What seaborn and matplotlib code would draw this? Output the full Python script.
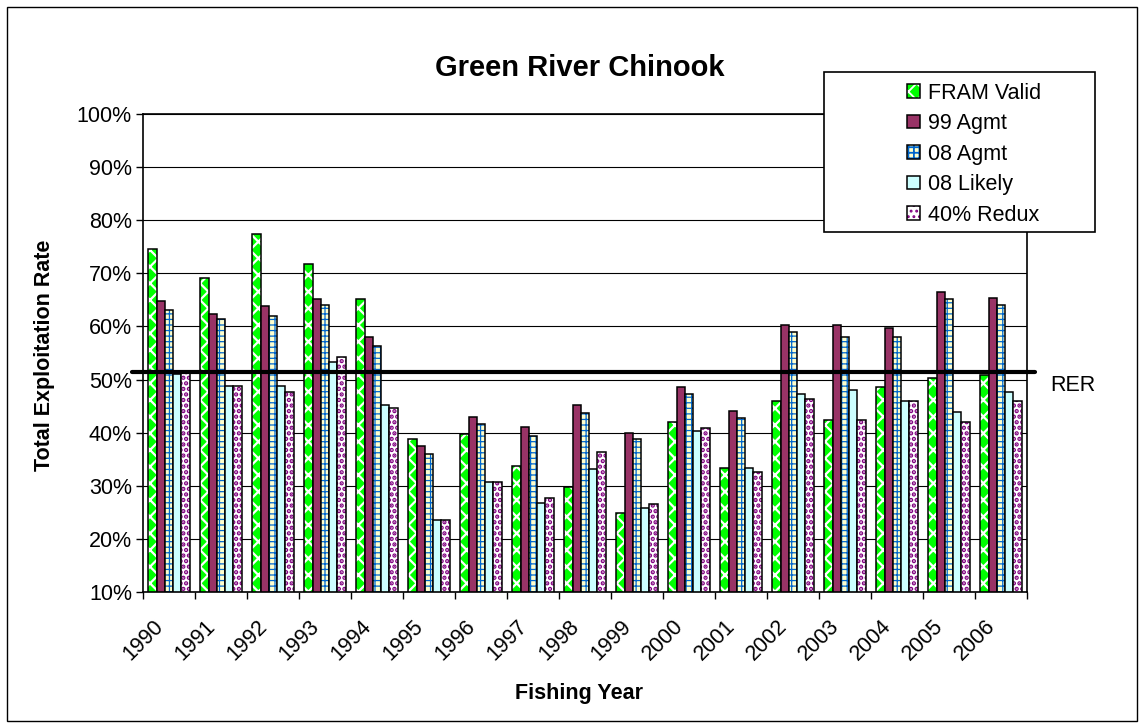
import numpy as np
import pandas as pd
import matplotlib
matplotlib.use("Agg")
import matplotlib.pyplot as plt
import matplotlib.transforms as mtransforms
import seaborn as sns
from matplotlib.patches import Rectangle
from matplotlib.ticker import PercentFormatter, MultipleLocator
from matplotlib.colors import to_rgba

# data (percent)
years = ["1990", "1991", "1992", "1993", "1994", "1995", "1996", "1997", "1998",
         "1999", "2000", "2001", "2002", "2003", "2004", "2005", "2006"]
fram_valid = [74.6, 69.1, 77.4, 71.8, 65.2, 38.8, 39.8, 33.7, 29.7, 24.8, 42.0, 33.4, 46.0, 42.3, 48.6, 50.3, 50.8]
agmt_99 = [64.8, 62.3, 63.8, 65.2, 58.0, 37.4, 42.9, 41.1, 45.2, 40.0, 48.6, 44.0, 60.3, 60.3, 59.8, 66.5, 65.4]
agmt_08 = [63.1, 61.4, 62.0, 64.0, 56.4, 36.0, 41.7, 39.4, 43.7, 38.9, 47.2, 42.8, 58.9, 58.1, 58.1, 65.1, 64.0]
likely_08 = [51.0, 48.8, 48.8, 53.3, 45.2, 23.6, 30.8, 26.8, 33.1, 25.9, 40.3, 33.4, 47.2, 48.0, 46.0, 43.8, 47.7]
redux_40 = [51.4, 48.8, 47.7, 54.3, 44.6, 23.6, 30.8, 27.7, 36.4, 26.5, 40.8, 32.6, 46.3, 42.3, 46.0, 42.1, 46.0]
rer = 51.4

series = ["FRAM Valid", "99 Agmt", "08 Agmt", "08 Likely", "40% Redux"]
face_colors = ["#00FF00", "#993366", "#FFFFCC", "#CCFFFF", "#FFFFFF"]
hatches = ["xx", "", "+++", "", "..."]
hatch_colors = ["#FFFFFF", "#993366", "#0066CC", "#CCFFFF", "#800080"]
hatch_widths = [1.6, 1.0, 0.9, 1.0, 2.2]

wide = pd.DataFrame({"Fishing Year": years, "FRAM Valid": fram_valid, "99 Agmt": agmt_99,
                     "08 Agmt": agmt_08, "08 Likely": likely_08, "40% Redux": redux_40})
long = wide.melt(id_vars="Fishing Year", var_name="series", value_name="rate")

sns.set_style("white")
plt.rcParams["font.family"] = ["Liberation Sans", "DejaVu Sans"]
plt.rcParams["hatch.linewidth"] = 1.3
for key in ["text.color", "axes.labelcolor", "xtick.color", "ytick.color"]:
    plt.rcParams[key] = "black"

fig = plt.figure(figsize=(11.44, 7.28), dpi=100)
ax = fig.add_axes([143 / 1144, 1 - 592 / 728, 884 / 1144, 478 / 728])

sns.barplot(data=long, x="Fishing Year", y="rate", hue="series", hue_order=series,
            palette=dict(zip(series, face_colors)), saturation=1, width=0.8,
            edgecolor="black", linewidth=1.1, legend=False, ax=ax)

for cont, h, hc, hw in zip(ax.containers, hatches, hatch_colors, hatch_widths):
    for bar in cont:
        bar.set_hatch(h)
        if hasattr(bar, "set_hatchcolor"):
            bar.set_hatchcolor(hc)
        else:
            bar._hatch_color = to_rgba(hc)
        if hasattr(bar, "set_hatch_linewidth"):
            bar.set_hatch_linewidth(hw)

ax.set_ylim(10, 100)
ax.set_xlim(-0.5, len(years) - 0.5)
ax.yaxis.set_major_locator(MultipleLocator(10))
ax.yaxis.set_major_formatter(PercentFormatter(100, decimals=0))
ax.grid(axis="y", color="black", linewidth=0.8)
ax.set_axisbelow(True)

ax.set_xticks(np.arange(len(years) + 1) - 0.5, labels=[])
ax.set_xticks(np.arange(len(years)), labels=years, minor=True)
ax.tick_params(axis="x", which="major", direction="out", length=5, width=1, color="black", bottom=True)
ax.tick_params(axis="x", which="minor", length=0, labelsize=15.5, pad=12)
shift = mtransforms.ScaledTranslation(-16 / 100, -7 / 100, fig.dpi_scale_trans)
for lab in ax.get_xticklabels(minor=True):
    lab.set_rotation(45)
    lab.set_ha("right")
    lab.set_rotation_mode("anchor")
    lab.set_transform(lab.get_transform() + shift)
ax.tick_params(axis="y", direction="out", length=5, width=1, color="black", left=True, labelsize=15.5, pad=3)

for sp in ax.spines.values():
    sp.set_color("black")
    sp.set_linewidth(1.2)

ax.set_xlabel("")
ax.set_ylabel("")
fig.text(579 / 1144, 1 - 693 / 728, "Fishing Year", ha="center", va="center", fontsize=15.5, fontweight="bold")
fig.text(45 / 1144, 1 - 355 / 728, "Total Exploitation Rate", ha="center", va="center",
         rotation=90, fontsize=15.5, fontweight="bold")
fig.text(580 / 1144, 1 - 68 / 728, "Green River Chinook", ha="center", va="center", fontsize=21, fontweight="bold")

# RER reference line, running slightly past the plot area
ax.axhline(rer, xmin=-0.012, xmax=1.009, color="black", linewidth=3, clip_on=False, zorder=5)
ax.annotate("RER", xy=(1.026, rer), xycoords=("axes fraction", "data"), xytext=(0, -9.5),
            textcoords="offset points", va="center", ha="left", fontsize=15.5, annotation_clip=False)

# legend box and entries
fig.add_artist(Rectangle((824 / 1144, 1 - 232 / 728), 271 / 1144, 160 / 728, transform=fig.transFigure,
                         facecolor="white", edgecolor="black", linewidth=1.2, zorder=3))
fig.legend(ax.containers, series, loc="upper left", bbox_to_anchor=(896 / 1144, 1 - 72 / 728),
           frameon=False, borderpad=0, fontsize=15.5, handlelength=0.6, handleheight=0.6,
           handletextpad=0.4, labelspacing=0.44)

fig.add_artist(Rectangle((7 / 1144, 7 / 728), 1130 / 1144, 714 / 728, transform=fig.transFigure,
                         facecolor="none", edgecolor="black", linewidth=1.0, zorder=0))

fig.savefig("out.png", dpi=100)
